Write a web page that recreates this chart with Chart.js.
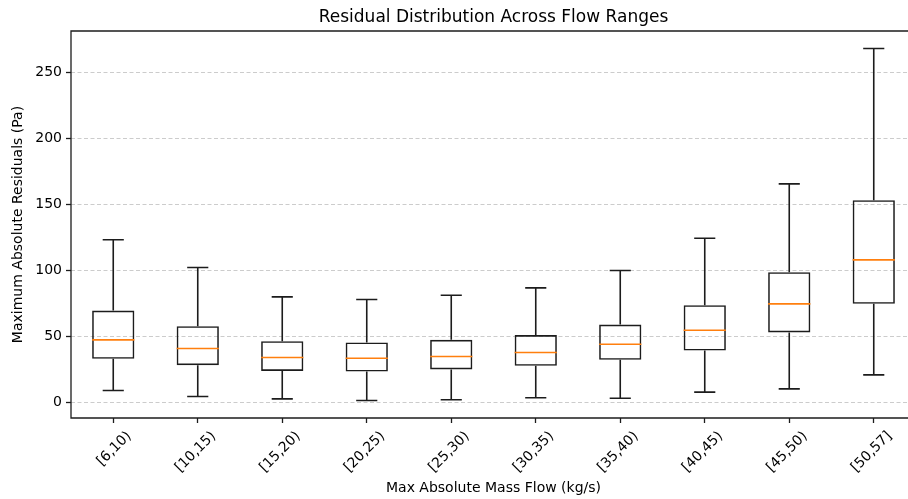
<!DOCTYPE html>
<html>
<head>
<meta charset="utf-8">
<script src="https://cdn.jsdelivr.net/npm/chart.js@4/dist/chart.umd.min.js"></script>
<style>
  html, body { margin: 0; padding: 0; background: #fff; overflow: hidden; }
  #wrap { width: 930px; height: 499px; position: relative; }
</style>
</head>
<body>
<div id="wrap"><canvas id="boxChart"></canvas></div>
<script>
// Box statistics per flow range
const categories = ['[6,10)', '[10,15)', '[15,20)', '[20,25)', '[25,30)', '[30,35)', '[35,40)', '[40,45)', '[45,50)', '[50,57]'];
const whiskerLow  = [9.3, 4.8, 3.0, 1.8, 2.3, 3.8, 3.5, 8.1, 10.6, 21.2];
const q1          = [33.3, 28.5, 24.2, 23.7, 25.3, 28.0, 32.6, 39.6, 53.3, 75.0];
const median      = [47.7, 41.2, 34.3, 33.8, 35.1, 38.1, 44.4, 55.0, 75.0, 108.3];
const q3          = [69.9, 58.1, 46.7, 45.7, 47.7, 51.3, 59.3, 74.0, 99.0, 153.5];
const whiskerHigh = [123.5, 102.5, 80.3, 78.3, 81.5, 87.1, 100.3, 124.7, 165.9, 268.4];
const yTicks = [0, 50, 100, 150, 200, 250];

Chart.defaults.font.family = '"DejaVu Sans", sans-serif';
Chart.defaults.color = '#111';

const FONT = 14;
const LINE = '#1c1c1c';

// whiskers, caps, medians and the axes frame (right spine falls off the page)
const boxExtras = {
  id: 'boxExtras',
  afterDatasetsDraw(chart) {
    const ctx = chart.ctx;
    const x = chart.scales.x, y = chart.scales.y;
    const catW = (x.right - x.left) / categories.length;
    const capHalf = catW * 0.125;
    const boxHalf = catW * 0.25;
    ctx.save();
    ctx.lineWidth = 1.6;
    ctx.strokeStyle = LINE;
    categories.forEach((c, i) => {
      const px = x.getPixelForValue(i);
      ctx.beginPath();
      ctx.moveTo(px, y.getPixelForValue(q3[i]));
      ctx.lineTo(px, y.getPixelForValue(whiskerHigh[i]));
      ctx.moveTo(px, y.getPixelForValue(q1[i]));
      ctx.lineTo(px, y.getPixelForValue(whiskerLow[i]));
      ctx.moveTo(px - capHalf, y.getPixelForValue(whiskerHigh[i]));
      ctx.lineTo(px + capHalf, y.getPixelForValue(whiskerHigh[i]));
      ctx.moveTo(px - capHalf, y.getPixelForValue(whiskerLow[i]));
      ctx.lineTo(px + capHalf, y.getPixelForValue(whiskerLow[i]));
      ctx.stroke();
    });
    ctx.strokeStyle = '#ff7f0e';
    categories.forEach((c, i) => {
      const px = x.getPixelForValue(i);
      const py = y.getPixelForValue(median[i]);
      ctx.beginPath();
      ctx.moveTo(px - boxHalf, py);
      ctx.lineTo(px + boxHalf, py);
      ctx.stroke();
    });
    const a = chart.chartArea;
    ctx.strokeStyle = LINE;
    ctx.lineWidth = 1.3;
    ctx.beginPath();
    ctx.moveTo(a.right, a.top);
    ctx.lineTo(a.left, a.top);
    ctx.lineTo(a.left, a.bottom);
    ctx.lineTo(a.right, a.bottom);
    ctx.stroke();
    ctx.restore();
  }
};

const ctx = document.getElementById('boxChart').getContext('2d');
new Chart(ctx, {
  type: 'bar',
  data: {
    labels: categories,
    datasets: [{
      label: 'IQR',
      data: q1.map((v, i) => [v, q3[i]]),
      backgroundColor: 'rgba(0,0,0,0)',
      borderColor: LINE,
      borderWidth: 1.6,
      borderSkipped: false,
      barPercentage: 0.5,
      categoryPercentage: 1.0
    }]
  },
  options: {
    responsive: true,
    maintainAspectRatio: false,
    animation: false,
    layout: { padding: { left: 0, right: 14, top: 0, bottom: 0 } },
    plugins: {
      legend: { display: false },
      tooltip: { enabled: false },
      title: {
        display: true,
        fullSize: false,
        text: 'Residual Distribution Across Flow Ranges',
        color: '#000',
        font: { size: 17, weight: 'normal' },
        padding: { top: 7, bottom: 3.6 }
      }
    },
    scales: {
      x: {
        afterFit: s => { s.height = 81; },
        border: { display: false },
        grid: {
          display: true,
          offset: false,
          drawOnChartArea: false,
          drawTicks: true,
          tickLength: 5,
          tickColor: LINE,
          tickWidth: 1.3
        },
        ticks: {
          font: { size: FONT },
          color: '#000',
          minRotation: 45,
          maxRotation: 45,
          padding: 5,
          autoSkip: false,
          labelOffset: c => {
            const g = c.chart.ctx;
            g.save();
            g.font = FONT + 'px "DejaVu Sans"';
            const w = g.measureText(categories[c.index] || '').width;
            g.restore();
            return FONT * 1.2 / 2 * Math.SQRT1_2 + w * Math.SQRT1_2 / 2 + 10;
          }
        },
        title: {
          display: true,
          text: 'Max Absolute Mass Flow (kg/s)',
          color: '#000',
          font: { size: FONT },
          padding: { top: 0, bottom: 2 }
        }
      },
      y: {
        min: -11.5,
        max: 281.7,
        afterFit: s => { s.width = 71; },
        afterBuildTicks: s => { s.ticks = yTicks.map(v => ({ value: v })); },
        border: { display: false, dash: [4, 2.5] },
        grid: {
          color: 'rgba(0,0,0,0.2)',
          lineWidth: 1,
          tickLength: 5,
          tickColor: LINE,
          tickWidth: 1.3,
          tickBorderDash: []
        },
        ticks: {
          font: { size: FONT },
          color: '#000',
          padding: 4,
          includeBounds: false
        },
        title: {
          display: true,
          text: 'Maximum Absolute Residuals (Pa)',
          color: '#000',
          font: { size: FONT },
          padding: { top: 10, bottom: 0 }
        }
      }
    }
  },
  plugins: [boxExtras]
});
</script>
</body>
</html>
